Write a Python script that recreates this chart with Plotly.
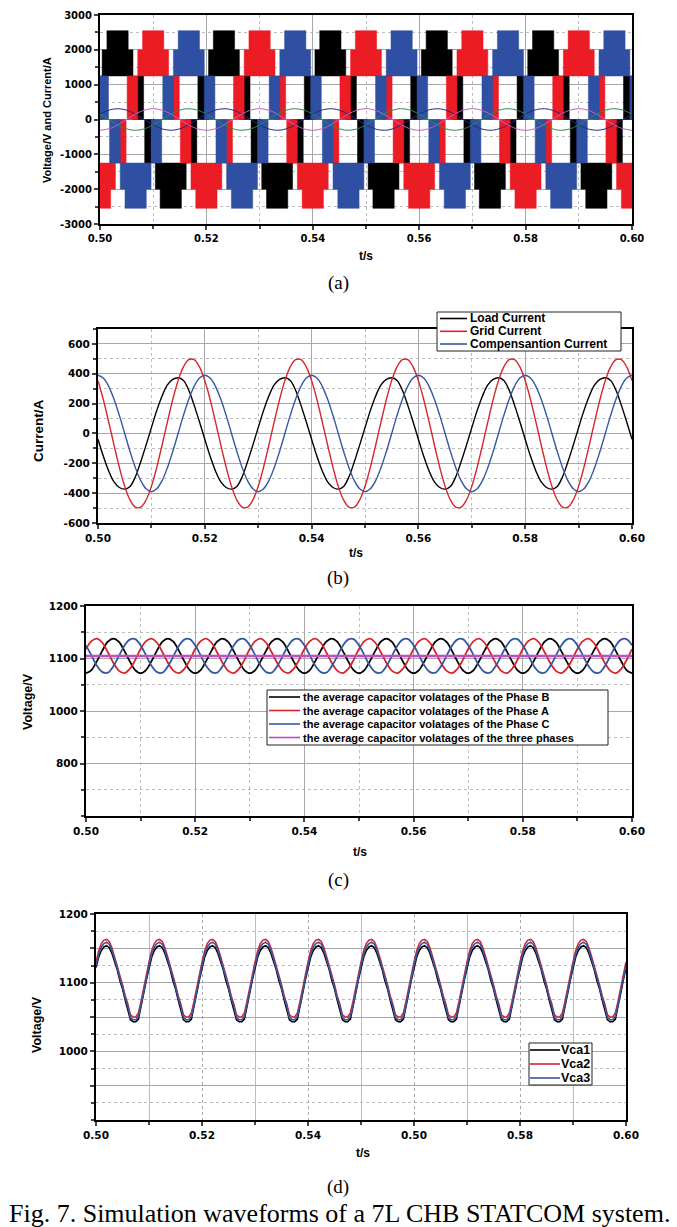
import plotly.graph_objects as go

W, H = 677, 1227

# ---------------- data ----------------
# (a) 7-level phase voltages: band levels (V) and centre times of positive / negative peaks
a_levels = [1250, 2000, 2550]
a_top_half = 0.0020      # half width of the top band
a_base_half = 0.0029     # half width of the middle band
a_zc_end = 0.0049        # extent of the lowest band (from the peak)
a_black_peaks = [0.4833, 0.5033, 0.5233, 0.5433, 0.5633, 0.5833, 0.6033]
a_black_troughs = [0.4933, 0.5133, 0.5333, 0.5533, 0.5733, 0.5933]
a_red_peaks = [0.4900, 0.5100, 0.5300, 0.5500, 0.5700, 0.5900]
a_red_troughs = [0.5000, 0.5200, 0.5400, 0.5600, 0.5800, 0.6000]
a_blue_peaks = [0.4967, 0.5167, 0.5367, 0.5567, 0.5767, 0.5967]
a_blue_troughs = [0.4867, 0.5067, 0.5267, 0.5467, 0.5667, 0.5867, 0.6067]

# (a) phase currents sampled every 2 ms from 0.500 s
a_t = [round(0.5 + 0.002 * i, 3) for i in range(51)]
a_cur_navy = [
    155, 283, 303, 207, 32, -155, -283, -303, -207, -32,
    155, 283, 303, 207, 32, -155, -283, -303, -207, -32,
    155, 283, 303, 207, 32, -155, -283, -303, -207, -32,
    155, 283, 303, 207, 32, -155, -283, -303, -207, -32,
    155, 283, 303, 207, 32, -155, -283, -303, -207, -32,
    155]
a_cur_magenta = [
    -310, -251, -96, 96, 251, 310, 251, 96, -96, -251,
    -310, -251, -96, 96, 251, 310, 251, 96, -96, -251,
    -310, -251, -96, 96, 251, 310, 251, 96, -96, -251,
    -310, -251, -96, 96, 251, 310, 251, 96, -96, -251,
    -310, -251, -96, 96, 251, 310, 251, 96, -96, -251,
    -310]
a_cur_green = [
    155, -32, -207, -303, -283, -155, 32, 207, 303, 283,
    155, -32, -207, -303, -283, -155, 32, 207, 303, 283,
    155, -32, -207, -303, -283, -155, 32, 207, 303, 283,
    155, -32, -207, -303, -283, -155, 32, 207, 303, 283,
    155, -32, -207, -303, -283, -155, 32, 207, 303, 283,
    155]

# (b) currents sampled every 1 ms
b_t = [round(0.5 + 0.001 * i, 3) for i in range(101)]
b_load = [
    -39, -153, -251, -325, -362, -373, -355, -290, -190, -78, 39, 153, 251, 325, 362, 373, 355, 290, 190, 78,
    -39, -153, -251, -325, -362, -373, -355, -290, -190, -78, 39, 153, 251, 325, 362, 373, 355, 290, 190, 78,
    -39, -153, -251, -325, -362, -373, -355, -290, -190, -78, 39, 153, 251, 325, 362, 373, 355, 290, 190, 78,
    -39, -153, -251, -325, -362, -373, -355, -290, -190, -78, 39, 153, 251, 325, 362, 373, 355, 290, 190, 78,
    -39, -153, -251, -325, -362, -373, -355, -290, -190, -78, 39, 153, 251, 325, 362, 373, 355, 290, 190, 78,
    -39]
b_grid = [
    354, 227, 78, -78, -227, -354, -446, -494, -494, -446, -354, -227, -78, 78, 227, 354, 446, 494, 494, 446,
    354, 227, 78, -78, -227, -354, -446, -494, -494, -446, -354, -227, -78, 78, 227, 354, 446, 494, 494, 446,
    354, 227, 78, -78, -227, -354, -446, -494, -494, -446, -354, -227, -78, 78, 227, 354, 446, 494, 494, 446,
    354, 227, 78, -78, -227, -354, -446, -494, -494, -446, -354, -227, -78, 78, 227, 354, 446, 494, 494, 446,
    354, 227, 78, -78, -227, -354, -446, -494, -494, -446, -354, -227, -78, 78, 227, 354, 446, 494, 494, 446,
    354]
b_comp = [
    390, 371, 316, 229, 121, 0, -121, -229, -316, -371, -390, -371, -316, -229, -121, 0, 121, 229, 316, 371,
    390, 371, 316, 229, 121, 0, -121, -229, -316, -371, -390, -371, -316, -229, -121, 0, 121, 229, 316, 371,
    390, 371, 316, 229, 121, 0, -121, -229, -316, -371, -390, -371, -316, -229, -121, 0, 121, 229, 316, 371,
    390, 371, 316, 229, 121, 0, -121, -229, -316, -371, -390, -371, -316, -229, -121, 0, 121, 229, 316, 371,
    390, 371, 316, 229, 121, 0, -121, -229, -316, -371, -390, -371, -316, -229, -121, 0, 121, 229, 316, 371,
    390]
b_names = ["Load Current", "Grid Current", "Compensantion Current"]

# (c) average capacitor voltages sampled every 1 ms
c_t = [round(0.5 + 0.001 * i, 3) for i in range(101)]
c_phase_b = [
    1072, 1078, 1095, 1115, 1132, 1138, 1132, 1115, 1095, 1078,
    1072, 1078, 1095, 1115, 1132, 1138, 1132, 1115, 1095, 1078,
    1072, 1078, 1095, 1115, 1132, 1138, 1132, 1115, 1095, 1078,
    1072, 1078, 1095, 1115, 1132, 1138, 1132, 1115, 1095, 1078,
    1072, 1078, 1095, 1115, 1132, 1138, 1132, 1115, 1095, 1078,
    1072, 1078, 1095, 1115, 1132, 1138, 1132, 1115, 1095, 1078,
    1072, 1078, 1095, 1115, 1132, 1138, 1132, 1115, 1095, 1078,
    1072, 1078, 1095, 1115, 1132, 1138, 1132, 1115, 1095, 1078,
    1072, 1078, 1095, 1115, 1132, 1138, 1132, 1115, 1095, 1078,
    1072, 1078, 1095, 1115, 1132, 1138, 1132, 1115, 1095, 1078,
    1072]
c_phase_a = [
    1118, 1133, 1138, 1130, 1112, 1092, 1077, 1072, 1080, 1097,
    1118, 1133, 1138, 1130, 1112, 1092, 1077, 1072, 1080, 1097,
    1118, 1133, 1138, 1130, 1112, 1092, 1077, 1072, 1080, 1097,
    1118, 1133, 1138, 1130, 1112, 1092, 1077, 1072, 1080, 1097,
    1118, 1133, 1138, 1130, 1112, 1092, 1077, 1072, 1080, 1097,
    1118, 1133, 1138, 1130, 1112, 1092, 1077, 1072, 1080, 1097,
    1118, 1133, 1138, 1130, 1112, 1092, 1077, 1072, 1080, 1097,
    1118, 1133, 1138, 1130, 1112, 1092, 1077, 1072, 1080, 1097,
    1118, 1133, 1138, 1130, 1112, 1092, 1077, 1072, 1080, 1097,
    1118, 1133, 1138, 1130, 1112, 1092, 1077, 1072, 1080, 1097,
    1118]
c_phase_c = [
    1125, 1106, 1086, 1074, 1073, 1085, 1104, 1124, 1136, 1137,
    1125, 1106, 1086, 1074, 1073, 1085, 1104, 1124, 1136, 1137,
    1125, 1106, 1086, 1074, 1073, 1085, 1104, 1124, 1136, 1137,
    1125, 1106, 1086, 1074, 1073, 1085, 1104, 1124, 1136, 1137,
    1125, 1106, 1086, 1074, 1073, 1085, 1104, 1124, 1136, 1137,
    1125, 1106, 1086, 1074, 1073, 1085, 1104, 1124, 1136, 1137,
    1125, 1106, 1086, 1074, 1073, 1085, 1104, 1124, 1136, 1137,
    1125, 1106, 1086, 1074, 1073, 1085, 1104, 1124, 1136, 1137,
    1125, 1106, 1086, 1074, 1073, 1085, 1104, 1124, 1136, 1137,
    1125, 1106, 1086, 1074, 1073, 1085, 1104, 1124, 1136, 1137,
    1125]
c_avg_t = [0.5, 0.6]
c_avg = [1105, 1105]
c_names = ["the average capacitor volatages of the Phase B",
           "the average capacitor volatages of the Phase A",
           "the average capacitor volatages of the Phase C",
           "the average capacitor volatages of the three phases"]
c_ytickvals = [900, 1000, 1100, 1200]
c_yticktext = ["800", "1000", "1100", "1200"]

# (d) cluster capacitor voltages sampled every 0.5 ms
d_t = [round(0.5 + 0.0005 * i, 4) for i in range(201)]
d_vca1 = [
    1122, 1137, 1147, 1152, 1154, 1151, 1143, 1132, 1119, 1103, 1091, 1075, 1062, 1046, 1043, 1043, 1047, 1064, 1085, 1104,
    1122, 1137, 1147, 1152, 1154, 1151, 1143, 1132, 1119, 1103, 1091, 1075, 1062, 1046, 1043, 1043, 1047, 1064, 1085, 1104,
    1122, 1137, 1147, 1152, 1154, 1151, 1143, 1132, 1119, 1103, 1091, 1075, 1062, 1046, 1043, 1043, 1047, 1064, 1085, 1104,
    1122, 1137, 1147, 1152, 1154, 1151, 1143, 1132, 1119, 1103, 1091, 1075, 1062, 1046, 1043, 1043, 1047, 1064, 1085, 1104,
    1122, 1137, 1147, 1152, 1154, 1151, 1143, 1132, 1119, 1103, 1091, 1075, 1062, 1046, 1043, 1043, 1047, 1064, 1085, 1104,
    1122, 1137, 1147, 1152, 1154, 1151, 1143, 1132, 1119, 1103, 1091, 1075, 1062, 1046, 1043, 1043, 1047, 1064, 1085, 1104,
    1122, 1137, 1147, 1152, 1154, 1151, 1143, 1132, 1119, 1103, 1091, 1075, 1062, 1046, 1043, 1043, 1047, 1064, 1085, 1104,
    1122, 1137, 1147, 1152, 1154, 1151, 1143, 1132, 1119, 1103, 1091, 1075, 1062, 1046, 1043, 1043, 1047, 1064, 1085, 1104,
    1122, 1137, 1147, 1152, 1154, 1151, 1143, 1132, 1119, 1103, 1091, 1075, 1062, 1046, 1043, 1043, 1047, 1064, 1085, 1104,
    1122, 1137, 1147, 1152, 1154, 1151, 1143, 1132, 1119, 1103, 1091, 1075, 1062, 1046, 1043, 1043, 1047, 1064, 1085, 1104,
    1122]
d_vca2 = [
    1130, 1146, 1157, 1162, 1163, 1160, 1151, 1138, 1125, 1109, 1097, 1081, 1069, 1053, 1050, 1050, 1056, 1073, 1093, 1112,
    1130, 1146, 1157, 1162, 1163, 1160, 1151, 1138, 1125, 1109, 1097, 1081, 1069, 1053, 1050, 1050, 1056, 1073, 1093, 1112,
    1130, 1146, 1157, 1162, 1163, 1160, 1151, 1138, 1125, 1109, 1097, 1081, 1069, 1053, 1050, 1050, 1056, 1073, 1093, 1112,
    1130, 1146, 1157, 1162, 1163, 1160, 1151, 1138, 1125, 1109, 1097, 1081, 1069, 1053, 1050, 1050, 1056, 1073, 1093, 1112,
    1130, 1146, 1157, 1162, 1163, 1160, 1151, 1138, 1125, 1109, 1097, 1081, 1069, 1053, 1050, 1050, 1056, 1073, 1093, 1112,
    1130, 1146, 1157, 1162, 1163, 1160, 1151, 1138, 1125, 1109, 1097, 1081, 1069, 1053, 1050, 1050, 1056, 1073, 1093, 1112,
    1130, 1146, 1157, 1162, 1163, 1160, 1151, 1138, 1125, 1109, 1097, 1081, 1069, 1053, 1050, 1050, 1056, 1073, 1093, 1112,
    1130, 1146, 1157, 1162, 1163, 1160, 1151, 1138, 1125, 1109, 1097, 1081, 1069, 1053, 1050, 1050, 1056, 1073, 1093, 1112,
    1130, 1146, 1157, 1162, 1163, 1160, 1151, 1138, 1125, 1109, 1097, 1081, 1069, 1053, 1050, 1050, 1056, 1073, 1093, 1112,
    1130, 1146, 1157, 1162, 1163, 1160, 1151, 1138, 1125, 1109, 1097, 1081, 1069, 1053, 1050, 1050, 1056, 1073, 1093, 1112,
    1130]
d_vca3 = [
    1125, 1141, 1152, 1157, 1159, 1156, 1147, 1135, 1122, 1106, 1094, 1078, 1066, 1049, 1046, 1046, 1051, 1068, 1089, 1108,
    1125, 1141, 1152, 1157, 1159, 1156, 1147, 1135, 1122, 1106, 1094, 1078, 1066, 1049, 1046, 1046, 1051, 1068, 1089, 1108,
    1125, 1141, 1152, 1157, 1159, 1156, 1147, 1135, 1122, 1106, 1094, 1078, 1066, 1049, 1046, 1046, 1051, 1068, 1089, 1108,
    1125, 1141, 1152, 1157, 1159, 1156, 1147, 1135, 1122, 1106, 1094, 1078, 1066, 1049, 1046, 1046, 1051, 1068, 1089, 1108,
    1125, 1141, 1152, 1157, 1159, 1156, 1147, 1135, 1122, 1106, 1094, 1078, 1066, 1049, 1046, 1046, 1051, 1068, 1089, 1108,
    1125, 1141, 1152, 1157, 1159, 1156, 1147, 1135, 1122, 1106, 1094, 1078, 1066, 1049, 1046, 1046, 1051, 1068, 1089, 1108,
    1125, 1141, 1152, 1157, 1159, 1156, 1147, 1135, 1122, 1106, 1094, 1078, 1066, 1049, 1046, 1046, 1051, 1068, 1089, 1108,
    1125, 1141, 1152, 1157, 1159, 1156, 1147, 1135, 1122, 1106, 1094, 1078, 1066, 1049, 1046, 1046, 1051, 1068, 1089, 1108,
    1125, 1141, 1152, 1157, 1159, 1156, 1147, 1135, 1122, 1106, 1094, 1078, 1066, 1049, 1046, 1046, 1051, 1068, 1089, 1108,
    1125, 1141, 1152, 1157, 1159, 1156, 1147, 1135, 1122, 1106, 1094, 1078, 1066, 1049, 1046, 1046, 1051, 1068, 1089, 1108,
    1125]
d_names = ["Vca1", "Vca2", "Vca3"]
d_ytickvals = [950, 1000, 1050, 1100, 1150, 1200]
d_yticktext = ["", "1000", "", "1100", "", "1200"]

x_tickvals = [0.50, 0.52, 0.54, 0.56, 0.58, 0.60]
x_ticktext = ["0.50", "0.52", "0.54", "0.56", "0.58", "0.60"]
d_xticktext = ["0.50", "0.52", "0.54", "0.50", "0.58", "0.60"]
x_minorvals = [0.51, 0.53, 0.55, 0.57, 0.59]

# ---------------- colours ----------------
BLACK = "#000000"
RED_A = "#ec1c24"
BLUE_A = "#2f4fa2"
RED = "#d8232a"
BLUE = "#3557a3"
MAGENTA = "#c04cc0"

# ---------------- helpers ----------------
def px(x):
    return x / W

def py(y):
    return 1 - y / H

FONT = "Liberation Sans"
TICKFONT = "DejaVu Sans"


def phase_polygons(peaks, troughs):
    xs, ys = [], []
    L1, L2, L3 = a_levels
    b, tp, zc = a_base_half, a_top_half, a_zc_end
    for centres, s in ((peaks, 1), (troughs, -1)):
        for c in centres:
            pts = [(c - b, L1), (c - b, L2), (c - tp, L2), (c - tp, L3),
                   (c + tp, L3), (c + tp, L2), (c + b, L2), (c + b, L1)]
            for (x, y) in pts + [pts[0]]:
                xs.append(x); ys.append(s * y)
            xs.append(None); ys.append(None)
            for (x0, x1) in ((c - zc, c - b), (c + b, c + zc)):
                for (x, y) in ((x0, 0), (x1, 0), (x1, L1), (x0, L1), (x0, 0)):
                    xs.append(x); ys.append(s * y)
                xs.append(None); ys.append(None)
    return xs, ys


fig = go.Figure()

# (a) voltages
for peaks, troughs, col in ((a_black_peaks, a_black_troughs, BLACK),
                            (a_red_peaks, a_red_troughs, RED_A),
                            (a_blue_peaks, a_blue_troughs, BLUE_A)):
    xs, ys = phase_polygons(peaks, troughs)
    fig.add_trace(go.Scatter(x=xs, y=ys, mode="lines", fill="toself", fillcolor=col,
                             line=dict(width=0.5, color=col), xaxis="x", yaxis="y",
                             showlegend=False, hoverinfo="skip"))
# (a) currents
for vals, col in ((a_cur_navy, "#26267e"), (a_cur_magenta, "#c060c8"), (a_cur_green, "#2a8a4a")):
    fig.add_trace(go.Scatter(x=a_t, y=vals, mode="lines", line=dict(color=col, width=1, shape="spline"),
                             xaxis="x", yaxis="y", showlegend=False))

# (b)
for vals, col in ((b_load, BLACK), (b_grid, RED), (b_comp, BLUE)):
    fig.add_trace(go.Scatter(x=b_t, y=vals, mode="lines", line=dict(color=col, width=1.4, shape="spline"),
                             xaxis="x2", yaxis="y2", showlegend=False))

# (c)
for vals, col in ((c_phase_b, BLACK), (c_phase_a, RED), (c_phase_c, BLUE)):
    fig.add_trace(go.Scatter(x=c_t, y=vals, mode="lines", line=dict(color=col, width=1.8, shape="spline"),
                             xaxis="x3", yaxis="y3", showlegend=False))
fig.add_trace(go.Scatter(x=c_avg_t, y=c_avg, mode="lines", line=dict(color=MAGENTA, width=2.5),
                         xaxis="x3", yaxis="y3", showlegend=False))

# (d)
for vals, col in ((d_vca1, BLACK), (d_vca2, RED), (d_vca3, BLUE)):
    fig.add_trace(go.Scatter(x=d_t, y=vals, mode="lines", line=dict(color=col, width=1.6),
                             xaxis="x4", yaxis="y4", showlegend=False))


def xaxis(domain, anchor, ticktext, major_dash, minor_dash, fsize):
    return dict(domain=domain, anchor=anchor, range=[0.5, 0.6], tickmode="array", automargin=False,
                tickvals=x_tickvals, ticktext=ticktext, ticks="outside", ticklen=4, tickwidth=1.5,
                showline=True, linecolor="black", linewidth=2, mirror=True, zeroline=False,
                showgrid=True, gridcolor="#a8a8a8", gridwidth=1, griddash=major_dash,
                minor=dict(tickvals=x_minorvals, ticks="outside", ticklen=3, showgrid=True,
                           gridcolor="#bdbdbd", gridwidth=1, griddash=minor_dash),
                tickfont=dict(family=TICKFONT, size=fsize, color="black", weight="bold"))


def yaxis(domain, anchor, rng, tickvals, ticktext, minor_dtick, fsize, minor_dash="dot", major_dash="solid"):
    return dict(domain=domain, anchor=anchor, range=rng, tickmode="array", tickvals=tickvals, automargin=False,
                ticktext=ticktext, ticks="outside", ticklen=4, tickwidth=1.5,
                showline=True, linecolor="black", linewidth=2, mirror=True, zeroline=False,
                showgrid=True, gridcolor="#a8a8a8", gridwidth=1, griddash=major_dash,
                minor=dict(dtick=minor_dtick, tick0=rng[0], ticks="outside", ticklen=3, showgrid=True,
                           gridcolor="#bdbdbd", gridwidth=1, griddash=minor_dash),
                tickfont=dict(family=TICKFONT, size=fsize, color="black", weight="bold"))


a_ytick = [-3000, -2000, -1000, 0, 1000, 2000, 3000]
b_ytick = [-600, -400, -200, 0, 200, 400, 600]

layout = dict(
    width=W, height=H, margin=dict(l=0, r=0, t=0, b=0, autoexpand=False),
    paper_bgcolor="white", plot_bgcolor="white", showlegend=False,
    xaxis=xaxis([px(100), px(632)], "y", x_ticktext, "solid", "dot", 10),
    yaxis=yaxis([py(224), py(15)], "x", [-3000, 3000], a_ytick, [str(v) for v in a_ytick], 500, 10),
    xaxis2=xaxis([px(98), px(632)], "y2", x_ticktext, "solid", "dot", 10.5),
    yaxis2=yaxis([py(523), py(329)], "x2", [-600, 700], b_ytick, [str(v) for v in b_ytick], 100, 10.5),
    xaxis3=xaxis([px(86), px(632)], "y3", x_ticktext, "solid", "dot", 10.5),
    yaxis3=yaxis([py(816), py(606)], "x3", [800, 1200], c_ytickvals, c_yticktext, 50, 10.5),
    xaxis4=xaxis([px(96), px(626)], "y4", d_xticktext, "dot", "solid", 10.5),
    yaxis4=yaxis([py(1120), py(914)], "x4", [900, 1200], d_ytickvals, d_yticktext, 25, 10.5),
)
fig.update_layout(**layout)

ann = []
def text(x, y, s, size, bold=True, angle=0, family=FONT, xanchor="center"):
    ann.append(dict(x=px(x), y=py(y), xref="paper", yref="paper", text=s, showarrow=False,
                    textangle=angle, xanchor=xanchor, yanchor="middle",
                    font=dict(family=family, size=size, color="black", weight="bold" if bold else "normal")))

# axis titles
text(47, 120, "Voltage/V and Current/A", 11, angle=-90)
text(366, 256, "t/s", 12)
text(38, 431, "Current/A", 13.5, angle=-90)
text(356, 553, "t/s", 12)
text(28, 702, "Voltage/V", 12.5, angle=-90)
text(360, 852, "t/s", 12)
text(37, 1025, "Voltage/V", 12.5, angle=-90)
text(363, 1153, "t/s", 12)
# captions
SERIF = "Liberation Serif"
text(338, 283, "(a)", 19, bold=False, family=SERIF)
text(338, 578, "(b)", 19, bold=False, family=SERIF)
text(338, 880, "(c)", 19, bold=False, family=SERIF)
text(338, 1187, "(d)", 19, bold=False, family=SERIF)
text(339, 1213, "Fig. 7. Simulation waveforms of a 7L CHB STATCOM system.", 26, bold=False, family=SERIF)

shapes = []
def legend_box(x0, y0, x1, y1, rows, names, colors, lx0, lx1, tx, size):
    shapes.append(dict(type="rect", xref="paper", yref="paper", x0=px(x0), x1=px(x1), y0=py(y1), y1=py(y0),
                       fillcolor="white", line=dict(color="#222222", width=1), layer="above"))
    for yy, nm, col in zip(rows, names, colors):
        shapes.append(dict(type="line", xref="paper", yref="paper", x0=px(lx0), x1=px(lx1), y0=py(yy), y1=py(yy),
                           line=dict(color=col, width=1.6), layer="above"))
        text(tx, yy, nm, size, xanchor="left")

legend_box(437, 312, 621, 351, [318.5, 331.3, 344], b_names, [BLACK, RED, BLUE], 440, 467, 468, 12)
legend_box(267, 690, 608, 745, [697, 710.5, 724, 737.5], c_names, [BLACK, RED, BLUE, MAGENTA], 269, 300, 301, 11)
legend_box(529, 1043, 592, 1085, [1050, 1064, 1078], d_names, [BLACK, RED, BLUE], 530, 560, 559, 12.5)

fig.update_layout(annotations=ann, shapes=shapes)
fig.write_html("out.html", config={"displayModeBar": False},
               post_script="document.body.style.margin='0';document.body.style.overflow='hidden';")
